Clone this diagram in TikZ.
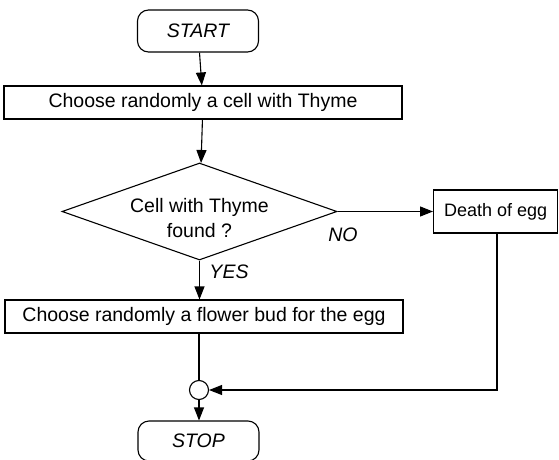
\documentclass[tikz,border=0pt]{standalone}
\usepackage{fontspec}
\setmainfont{Liberation Sans}
\usetikzlibrary{positioning,shapes.geometric,arrows.meta}

\begin{document}
\begin{tikzpicture}[x=1pt,y=-1pt,line width=1.1pt,
  txt/.style={font=\fontsize{19.5}{25}\selectfont},
  term/.style={draw,txt,font=\fontsize{19.5}{25}\selectfont\itshape,rounded corners=11pt,minimum width=121pt,minimum height=42pt},
  proc/.style={draw,txt,minimum height=33pt,inner sep=0pt},
  dec/.style={draw,diamond,aspect=2.835,minimum width=275pt,minimum height=97pt,inner sep=0pt},
  flow/.style={-{Triangle[length=13pt,width=10pt]}},
  lab/.style={font=\fontsize{19.5}{25}\selectfont\itshape,inner sep=1pt}]
  \useasboundingbox (0,0) rectangle (559,460);

  \node[term] (start) at (198,31) {START};
  \node[proc,minimum width=398pt] (cell) at (203,102.5) {Choose randomly a cell with Thyme};
  \node[dec] (found) at (199.5,211.5) {};
  \node[txt,align=center] (foundtext) at (199.5,218) {Cell with Thyme\\found ?};
  \node[proc,anchor=west,minimum height=43pt,minimum width=124pt,font=\fontsize{18}{22}\selectfont] (death) at (433,211.5) {Death of egg};
  \node[proc,minimum width=398pt] (bud) at (204,316.5) {Choose randomly a flower bud for the egg};
  \node[draw,circle,minimum size=19pt,inner sep=0pt] (join) at (199,390) {};
  \node[term,minimum height=40pt] (stop) at (198.5,441) {STOP};

  \node[lab] (no) at (343,235) {NO};
  \node[lab] (yes) at (229,272) {YES};

  \draw[flow] (start) -- (cell);
  \draw[flow] (cell) -- (found);
  \draw[flow] (found.east) -- (death.west);
  \draw[flow] (found.south) -- (bud.north -| found.south);
  \draw (bud.south -| join.north) -- (join.north);
  \draw[flow] ([xshift=64pt]death.south west) |- (join.east);
  \draw[flow] (join) -- (stop.north -| join.south);
\end{tikzpicture}
\end{document}
